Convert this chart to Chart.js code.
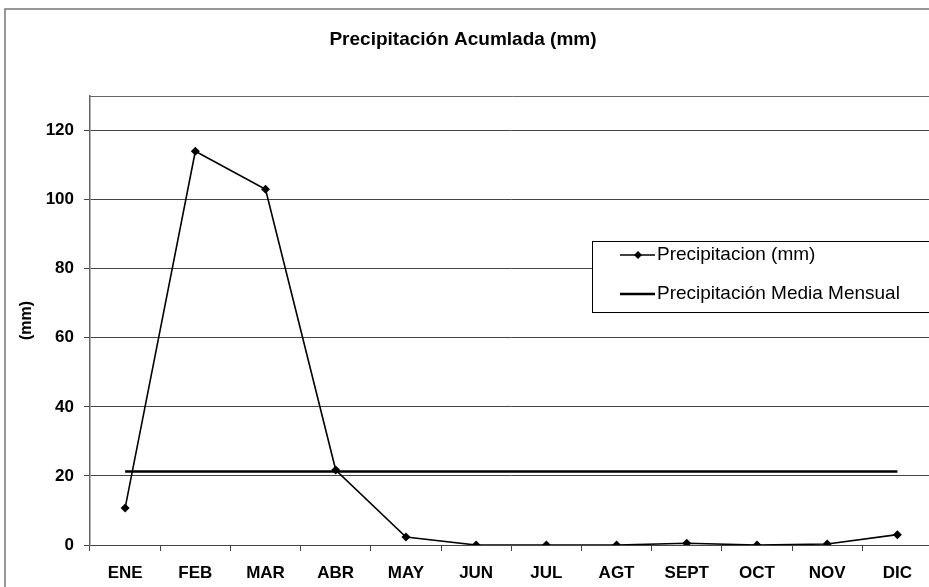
<!DOCTYPE html>
<html lang="es">

<head>
   <meta charset="UTF-8">
   <title>Precipitación Acumlada</title>
   <style>
      html, body {
         margin: 0;
         padding: 0;
         background: #fff;
         overflow: hidden;
      }

      .canvasWindow {
         width: 929px;
         height: 587px;
         overflow: hidden;
      }
   </style>
</head>

<body>
   <div class="canvasWindow">
      <!-- a bit wider than the window: the excel plot area runs past the right edge -->
      <canvas id="chartPrecip" width="937" height="587"></canvas>
   </div>
   <script src="https://cdn.jsdelivr.net/npm/chart.js@4.4.1/dist/chart.umd.min.js"></script>
   <script>
      // data
      var months = ['ENE', 'FEB', 'MAR', 'ABR', 'MAY', 'JUN', 'JUL', 'AGT', 'SEPT', 'OCT', 'NOV', 'DIC'];
      var precipitacion = [10.7, 114, 103, 21.7, 2.3, 0, 0, 0, 0.5, 0, 0.3, 3.0];
      var mediaMensual = [21.3, 21.3, 21.3, 21.3, 21.3, 21.3, 21.3, 21.3, 21.3, 21.3, 21.3, 21.3];
      var yTicks = [0, 20, 40, 60, 80, 100, 120];
      var chartTitle = 'Precipitación Acumlada (mm)';

      var fontFam = "'Liberation Sans', Arial, sans-serif";

      // frame, title and legend box, drawn like the excel chart
      var excelFrame = {
         id: 'excelFrame',
         beforeDraw: function (chart) {
            var ctx = chart.ctx;
            ctx.save();
            ctx.fillStyle = '#fff';
            ctx.fillRect(0, 0, chart.width, chart.height);
            ctx.strokeStyle = '#777';
            ctx.lineWidth = 1.5;
            ctx.strokeRect(5, 9, chart.width + 10, chart.height + 10);

            ctx.fillStyle = '#000';
            ctx.font = 'bold 19px ' + fontFam;
            ctx.textAlign = 'center';
            ctx.textBaseline = 'middle';
            ctx.fillText(chartTitle, 463, 40);
            ctx.restore();
         },
         afterDraw: function (chart) {
            var ctx = chart.ctx;
            var area = chart.chartArea;
            ctx.save();
            // plot area top border
            ctx.strokeStyle = '#666';
            ctx.lineWidth = 1;
            ctx.beginPath();
            ctx.moveTo(area.left, area.top + 0.5);
            ctx.lineTo(chart.width, area.top + 0.5);
            ctx.stroke();

            // legend
            var bx = 592, by = 241, bw = 345, bh = 71;
            ctx.fillStyle = '#fff';
            ctx.fillRect(bx, by, bw, bh);
            ctx.strokeStyle = '#000';
            ctx.lineWidth = 1;
            ctx.strokeRect(bx + 0.5, by + 0.5, bw, bh);

            ctx.font = '19px ' + fontFam;
            ctx.fillStyle = '#000';
            ctx.textBaseline = 'middle';

            // row 1
            ctx.lineWidth = 1.5;
            ctx.beginPath();
            ctx.moveTo(620, 255);
            ctx.lineTo(655, 255);
            ctx.stroke();
            ctx.beginPath();
            ctx.moveTo(638, 251);
            ctx.lineTo(642, 255);
            ctx.lineTo(638, 259);
            ctx.lineTo(634, 255);
            ctx.closePath();
            ctx.fill();
            ctx.fillText(chart.data.datasets[0].label, 657, 255);

            // row 2
            ctx.lineWidth = 2.5;
            ctx.beginPath();
            ctx.moveTo(620, 294);
            ctx.lineTo(655, 294);
            ctx.stroke();
            ctx.fillText(chart.data.datasets[1].label, 657, 294);
            ctx.restore();
         }
      };

      var ctxPrecip = document.getElementById('chartPrecip');
      var chartPrecip = new Chart(ctxPrecip, {
         type: 'line',
         data: {
            labels: months,
            datasets: [{
               label: 'Precipitacion (mm)',
               data: precipitacion,
               borderColor: '#000',
               backgroundColor: '#000',
               borderWidth: 1.6,
               pointStyle: 'rectRot',
               pointRadius: 4.5,
               pointBorderWidth: 0,
               tension: 0,
               order: 1
            }, {
               label: 'Precipitación Media Mensual',
               data: mediaMensual,
               borderColor: '#000',
               borderWidth: 2.6,
               pointRadius: 0,
               tension: 0,
               order: 2
            }]
         },
         options: {
            responsive: false,
            animation: false,
            layout: {
               padding: { left: 8, right: 0, top: 96, bottom: 0 }
            },
            plugins: {
               legend: { display: false },
               tooltip: { enabled: false },
               title: { display: false }
            },
            scales: {
               x: {
                  offset: true,
                  grid: {
                     offset: true,
                     drawOnChartArea: false,
                     drawTicks: true,
                     tickLength: 6,
                     color: '#444'
                  },
                  border: { color: '#444', width: 1 },
                  ticks: {
                     color: '#000',
                     padding: 12,
                     maxRotation: 0,
                     autoSkip: false,
                     font: { family: fontFam, size: 17, weight: 'bold' }
                  },
                  afterFit: function (scale) {
                     scale.height = 42;
                  }
               },
               y: {
                  min: 0,
                  max: 130,
                  afterBuildTicks: function (scale) {
                     scale.ticks = yTicks.map(function (v) {
                        return { value: v };
                     });
                  },
                  grid: {
                     color: '#444',
                     lineWidth: 1,
                     drawTicks: true,
                     tickLength: 6
                  },
                  border: { color: '#666', width: 1.5 },
                  ticks: {
                     color: '#000',
                     padding: 10,
                     font: { family: fontFam, size: 17, weight: 'bold' }
                  },
                  title: {
                     display: true,
                     text: '(mm)',
                     color: '#000',
                     padding: { top: 9, bottom: 0 },
                     font: { family: fontFam, size: 16, weight: 'bold' }
                  },
                  afterFit: function (scale) {
                     scale.width = 82;
                  }
               }
            }
         },
         plugins: [excelFrame]
      });
   </script>
</body>

</html>
